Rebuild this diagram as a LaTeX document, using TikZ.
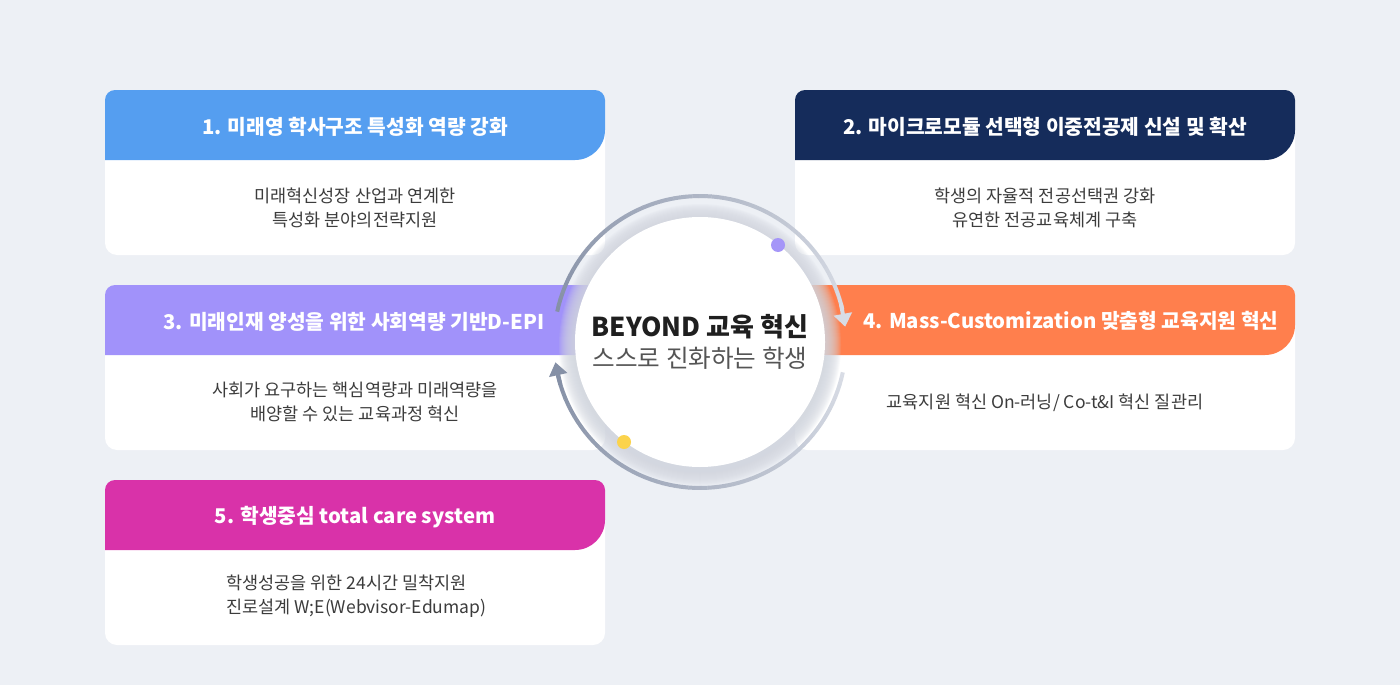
\documentclass[tikz,border=0pt]{standalone}
\usepackage{fontspec}
\setmainfont{Noto Sans CJK KR}
\usetikzlibrary{arrows.meta}
\definecolor{bg}{HTML}{EDF0F5}
\definecolor{cblue}{HTML}{559EF0}
\definecolor{cnavy}{HTML}{152C5B}
\definecolor{clav}{HTML}{A192FA}
\definecolor{corange}{HTML}{FF7F4D}
\definecolor{cmag}{HTML}{D932A9}
\definecolor{txtgray}{HTML}{3C3C3C}
\definecolor{subgray}{HTML}{555555}
\definecolor{ringdark}{HTML}{8590A6}
\definecolor{ringlight}{HTML}{D8DCE5}
\definecolor{halocol}{HTML}{D3D7E0}
\definecolor{dotpurple}{HTML}{A596F8}
\definecolor{dotyellow}{HTML}{FBD34C}
\tikzset{
  hdr/.style={text=white, font=\bfseries\fontsize{20.3}{24}\selectfont, inner sep=0pt},
  bodytxt/.style={text=txtgray, font=\fontsize{17.5}{24}\selectfont, align=center, inner sep=0pt},
  ringseg/.style={line width=4pt, line cap=butt},
}
\newcommand\cardshape[3]{%
  \fill[white, rounded corners=12pt] (#1,#2) rectangle ++(500,165);
  \fill[#3] (#1,#2+70) -- (#1,#2+10) .. controls (#1,#2+4.48) and (#1+4.48,#2) .. (#1+10,#2)
    -- (#1+490,#2) .. controls (#1+495.52,#2) and (#1+500,#2+4.48) .. (#1+500,#2+10)
    -- (#1+500,#2+40) .. controls (#1+500,#2+56.57) and (#1+486.57,#2+70) .. (#1+470,#2+70) -- cycle;
}
\begin{document}
\begin{tikzpicture}[x=1pt,y=-1pt]
\fill[bg] (0,0) rectangle (1400,685);
\useasboundingbox (0,0) rectangle (1400,685);
% cards
\cardshape{105}{90}{cblue}
\cardshape{795}{90}{cnavy}
\cardshape{105}{285}{clav}
\cardshape{795}{285}{corange}
\cardshape{105}{480}{cmag}
% center circle halo
\foreach \r in {141,140,...,126}{
  \fill[halocol, opacity=0.12] (700,345) circle[radius=\r pt];
}
\coordinate (ctr) at (700,342);
\fill[white] (ctr) circle[radius=125pt];
% upper ring arc
\foreach \i in {0,...,61}{
  \pgfmathsetmacro\a{-168+2.5*\i}
  \pgfmathsetmacro\b{\a+2.6}
  \pgfmathsetmacro\p{100*\i/61}
  \draw[ringseg, draw=ringlight!\p!ringdark] ([shift={(ctr)}]\a:146) -- ([shift={(ctr)}]\b:146);
}
\draw[ringseg, draw=ringlight, -{Triangle[width=18pt,length=13pt]}] ([shift={(ctr)}]-15:146) -- ([shift={(ctr)}]-6:146);
% lower ring arc
\foreach \i in {0,...,61}{
  \pgfmathsetmacro\a{12+2.5*\i}
  \pgfmathsetmacro\b{\a+2.6}
  \pgfmathsetmacro\p{100*\i/61}
  \draw[ringseg, draw=ringdark!\p!ringlight] ([shift={(ctr)}]\a:146) -- ([shift={(ctr)}]\b:146);
}
\draw[ringseg, draw=ringdark, -{Triangle[width=18pt,length=13pt]}] ([shift={(ctr)}]163:146) -- ([shift={(ctr)}]172:146);
% dots
\fill[dotpurple] (778,245) circle[radius=7pt];
\fill[dotyellow] (624,442) circle[radius=7pt];
% center text
\node[font=\bfseries\fontsize{26}{30}\selectfont, text=black!88, inner sep=0pt] (c1) at (700,327) {BEYOND 교육 혁신};
\node[font=\fontsize{24.6}{30}\selectfont, text=subgray, inner sep=0pt] (c2) at (700,358) {스스로 진화하는 학생};
% headers
\node[hdr] (h1) at (355,127) {1. 미래영 학사구조 특성화 역량 강화};
\node[hdr] (h2) at (1045,127) {2. 마이크로모듈 선택형 이중전공제 신설 및 확산};
\node[hdr] (h3) at (354,322) {3. 미래인재 양성을 위한 사회역량 기반D-EPI};
\node[hdr] (h4) at (1071,321) {4. Mass-Customization 맞춤형 교육지원 혁신};
\node[hdr] (h5) at (355,517) {5. 학생중심 total care system};
% bodies
\node[bodytxt] (b1) at (355,208) {미래혁신성장 산업과 연계한\\특성화 분야의전략지원};
\node[bodytxt] (b2) at (1045,208) {학생의 자율적 전공선택권 강화\\유연한 전공교육체계 구축};
\node[bodytxt] (b3) at (355,402) {사회가 요구하는 핵심역량과 미래역량을\\배양할 수 있는 교육과정 혁신};
\node[bodytxt] (b4) at (1045,403) {교육지원 혁신 On-러닝/ Co-t\&I 혁신 질관리};
\node[bodytxt, align=left, anchor=west] (b5) at (226,596) {학생성공을 위한 24시간 밀착지원\\진로설계 W;E(Webvisor-Edumap)};
\end{tikzpicture}
\end{document}
